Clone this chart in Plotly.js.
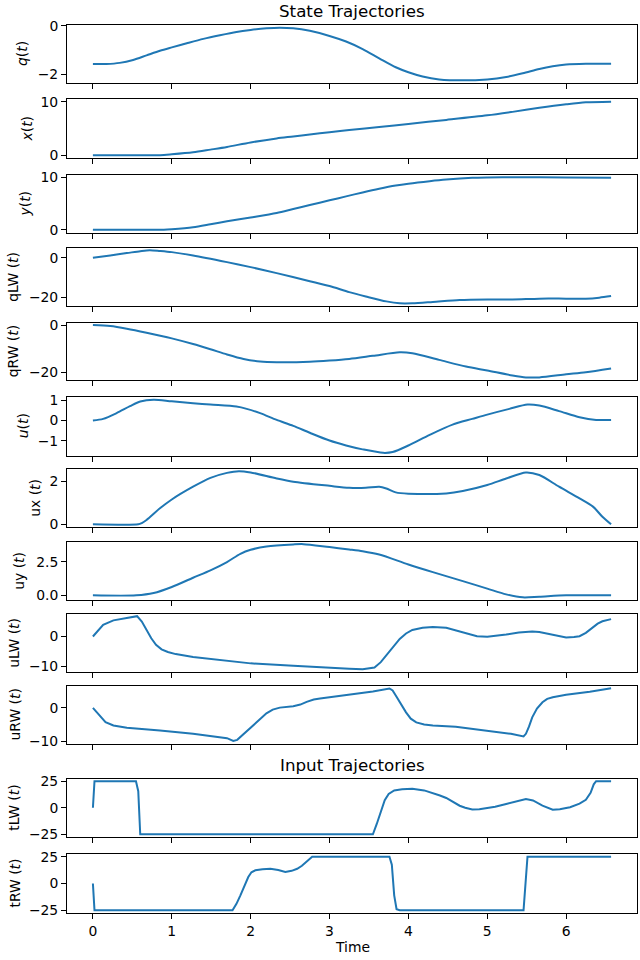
<!DOCTYPE html>
<html><head><meta charset="utf-8">
<script src="https://cdn.plot.ly/plotly-3.0.1.min.js"></script>
<style>body{margin:0;background:#fff;} #chart{width:640px;height:960px;}</style>
</head><body><div id="chart"></div>
<script>
// ---------- DATA ----------
const tQ = [0,0.17,0.34,0.51,0.68,0.85,1.0,1.19,1.40,1.61,1.82,2.0,2.2,2.37,2.54,2.75,3.0,3.21,3.42,3.63,3.84,4.0,4.18,4.39,4.69,5.0,5.24,5.45,5.66,5.83,6.0,6.25,6.57];
const q  = [-1.57,-1.565,-1.52,-1.40,-1.21,-1.02,-0.88,-0.71,-0.53,-0.38,-0.245,-0.163,-0.095,-0.068,-0.095,-0.20,-0.41,-0.64,-0.95,-1.33,-1.70,-1.905,-2.08,-2.20,-2.24,-2.20,-2.10,-1.95,-1.77,-1.66,-1.59,-1.56,-1.56];

const tX = [0,0.5,0.85,1.0,1.27,1.49,1.70,2.0,2.33,2.54,2.75,3.0,3.25,3.63,4.0,4.48,5.0,5.32,5.66,6.0,6.25,6.57];
const xPos = [0,0,0.03,0.19,0.56,1.06,1.56,2.4,3.15,3.52,3.9,4.3,4.7,5.28,5.85,6.6,7.45,8.1,8.85,9.5,9.88,10.0];

const tY = [0,0.5,0.9,1.0,1.27,1.49,1.70,2.0,2.33,2.54,2.75,3.0,3.21,3.42,3.63,3.84,4.0,4.27,4.48,4.81,5.0,5.32,6.0,6.57];
const yPos = [0,0,0.03,0.12,0.5,1.06,1.63,2.35,3.2,3.95,4.7,5.6,6.35,7.1,7.8,8.4,8.75,9.22,9.53,9.86,9.94,10.0,9.95,9.9];

const tQLW = [0,0.22,0.43,0.6,0.72,0.85,1.0,1.27,1.70,2.0,2.33,2.75,3.0,3.25,3.46,3.72,3.89,4.05,4.31,4.65,5.0,5.32,5.66,6.0,6.25,6.42,6.57];
const qLW  = [0,1.2,2.4,3.4,3.9,3.5,2.9,1.2,-2.2,-4.75,-7.8,-11.9,-14.4,-17.5,-19.7,-22.2,-23.2,-23.2,-22.5,-21.5,-21.2,-21.2,-20.8,-20.8,-20.8,-20.3,-19.5];

const tQRW = [0,0.22,0.43,0.68,1.0,1.27,1.49,1.70,1.91,2.12,2.33,2.75,3.0,3.25,3.55,3.89,4.05,4.39,4.73,5.0,5.32,5.49,5.66,6.0,6.25,6.57];
const qRW  = [0,-0.4,-1.5,-3.2,-5.6,-8.0,-10.2,-12.4,-14.3,-15.4,-15.7,-15.5,-15.0,-14.3,-13.0,-11.5,-11.9,-14.7,-17.5,-19.2,-21.3,-22.1,-22.1,-20.8,-19.9,-18.3];

const tU = [0,0.13,0.30,0.47,0.60,0.77,1.0,1.27,1.49,1.82,1.95,2.12,2.33,2.54,2.75,3.0,3.21,3.42,3.68,3.80,4.0,4.27,4.56,4.81,5.0,5.28,5.51,5.66,5.91,6.17,6.38,6.57];
const u  = [0,0.08,0.36,0.70,0.93,1.02,0.94,0.85,0.78,0.68,0.57,0.36,0.03,-0.26,-0.60,-0.98,-1.22,-1.41,-1.58,-1.54,-1.22,-0.70,-0.20,0.08,0.29,0.57,0.78,0.73,0.46,0.16,0.03,0.03];

const tUX = [0,0.575,0.62,0.68,0.85,1.0,1.27,1.49,1.70,1.85,2.0,2.33,2.54,3.0,3.25,3.46,3.63,3.72,3.84,4.0,4.48,4.69,5.0,5.24,5.49,5.66,5.91,6.17,6.34,6.46,6.57];
const ux  = [0,0,0.06,0.2,0.74,1.15,1.74,2.15,2.38,2.46,2.40,2.12,1.97,1.78,1.69,1.69,1.74,1.66,1.48,1.42,1.43,1.54,1.82,2.12,2.40,2.28,1.74,1.2,0.82,0.35,0];

const tUY = [0,0.55,0.77,1.0,1.27,1.49,1.70,1.87,2.0,2.2,2.54,2.67,3.0,3.25,3.42,3.63,4.0,4.31,4.69,5.0,5.24,5.45,5.66,6.0,6.57];
const uy  = [0,0,0.17,0.62,1.31,1.86,2.48,3.09,3.39,3.64,3.79,3.81,3.59,3.42,3.29,3.04,2.30,1.73,1.06,0.50,0.07,-0.15,-0.10,0,0];

const tULW = [0,0.05,0.13,0.26,0.43,0.56,0.62,0.68,0.74,0.80,0.87,0.95,1.05,1.27,1.70,2.0,2.54,3.0,3.25,3.42,3.57,3.65,3.72,3.80,3.89,3.97,4.05,4.18,4.31,4.48,4.6,4.73,4.87,5.0,5.12,5.24,5.4,5.57,5.66,5.74,5.87,6.0,6.1,6.17,6.25,6.34,6.4,6.46,6.57];
const uLW  = [0,1.44,3.9,5.4,6.2,6.8,5.0,2.2,-0.6,-2.8,-4.3,-5.2,-5.9,-6.9,-8.2,-9.0,-9.8,-10.6,-10.8,-11.0,-10.4,-8.6,-6.3,-3.4,-0.8,1.0,2.2,2.9,3.2,2.9,2.0,0.9,0.1,-0.1,0.2,0.67,1.3,1.67,1.5,1.1,0.2,-0.33,-0.2,0.1,1.2,3.1,4.3,5.1,5.8];

const tURW = [0,0.05,0.10,0.16,0.26,0.43,0.85,1.27,1.70,1.78,1.83,1.90,1.97,2.04,2.12,2.20,2.28,2.37,2.54,2.63,2.71,2.80,2.88,3.05,3.25,3.55,3.76,3.80,3.84,3.90,3.97,4.03,4.10,4.2,4.31,4.6,5.0,5.3,5.46,5.49,5.53,5.57,5.63,5.70,5.76,5.83,6.0,6.3,6.57];
const uRW  = [0,-1.3,-2.8,-4.2,-5.2,-5.9,-6.7,-7.7,-9.0,-9.8,-9.5,-8.0,-6.5,-5.0,-3.3,-1.6,-0.5,0.1,0.5,1.0,1.8,2.5,2.8,3.3,3.9,4.9,5.8,5.2,3.7,1.2,-1.3,-3.2,-4.3,-4.9,-5.2,-5.6,-6.7,-7.7,-8.5,-7.7,-5.5,-2.8,-0.2,1.7,2.7,3.2,3.9,4.8,5.9];

const tTLW = [0,0.02,0.546,0.575,0.60,3.55,3.60,3.65,3.70,3.75,3.82,3.92,4.05,4.2,4.31,4.4,4.48,4.56,4.65,4.72,4.81,4.9,5.0,5.1,5.24,5.35,5.49,5.58,5.66,5.7,5.83,5.92,6.0,6.05,6.17,6.25,6.31,6.35,6.38,6.57];
const tauLW = [0,25,25,15.6,-25,-25,-15,-3,7,13,16.3,17.3,17.8,16.3,14.0,11.5,9.2,6,1.9,0,-1.6,-1.5,-0.3,1.0,3.5,5.8,8.3,6.9,3.5,2.0,-1.9,-1.5,-0.3,0.5,3.8,7.5,14,22,25,25];

const tTRW = [0,0.02,1.77,1.82,1.87,1.92,1.97,2.01,2.06,2.15,2.25,2.35,2.44,2.52,2.59,2.65,2.70,2.75,2.78,3.76,3.79,3.82,3.85,3.89,5.46,5.51,6.57];
const tauRW = [0,-25,-25,-19,-11,-2,6,10.5,12.3,13.2,13.7,12.5,10.8,11.8,13.7,16.5,19.8,23.5,25,25,17.5,-11,-24,-25,-25,25,25];

// tick labels
const xTickVals = [0,1,2,3,4,5,6];
const xTickText = ['0','1','2','3','4','5','6'];

// ---------- BUILD ----------
const blue = '#1f77b4';
const FONT = 'DejaVu Sans, sans-serif';
const series = [
  {t:tQ, v:q, label:'<i>q</i>(<i>t</i>)', tv:[-2,0], tt:['−2','0'], shape:'spline'},
  {t:tX, v:xPos, label:'<i>x</i>(<i>t</i>)', tv:[0,10], tt:['0','10'], shape:'spline'},
  {t:tY, v:yPos, label:'<i>y</i>(<i>t</i>)', tv:[0,10], tt:['0','10'], shape:'spline'},
  {t:tQLW, v:qLW, label:'qLW (<i>t</i>)', tv:[-20,0], tt:['−20','0'], shape:'spline'},
  {t:tQRW, v:qRW, label:'qRW (<i>t</i>)', tv:[-20,0], tt:['−20','0'], shape:'spline'},
  {t:tU, v:u, label:'<i>u</i>(<i>t</i>)', tv:[-1,0,1], tt:['−1','0','1'], shape:'spline'},
  {t:tUX, v:ux, label:'ux (<i>t</i>)', tv:[0,2], tt:['0','2'], shape:'spline'},
  {t:tUY, v:uy, label:'uy (<i>t</i>)', tv:[0,2.5], tt:['0.0','2.5'], shape:'spline'},
  {t:tULW, v:uLW, label:'uLW (<i>t</i>)', tv:[-10,0], tt:['−10','0'], shape:'linear'},
  {t:tURW, v:uRW, label:'uRW (<i>t</i>)', tv:[-10,0], tt:['−10','0'], shape:'linear'},
  {t:tTLW, v:tauLW, label:'tLW (<i>t</i>)', tv:[-25,0,25], tt:['−25','0','25'], shape:'linear'},
  {t:tTRW, v:tauRW, label:'tRW (<i>t</i>)', tv:[-25,0,25], tt:['−25','0','25'], shape:'linear'}
];
// layout positions (pixels)
const tops    = [25, 99, 174.5, 247.5, 322.5, 397, 468.5, 541.5, 613.5, 685.5, 778.5, 854];
const bottoms = [83, 158, 232.5, 306, 380, 455.5, 527, 600, 672, 743.5, 837, 913];
const labelX  = [22, 27, 25, 13, 13, 23, 35, 19, 14, 14, 14, 14];

const W = 640, H = 960, L = 67, R = 3;
const PW = W - L - R;
const py = p => 1 - p / H;
const px = p => (p - L) / PW;

function padRange(arr){
  const mn = Math.min(...arr), mx = Math.max(...arr), s = mx - mn;
  return [mn - 0.05*s, mx + 0.05*s];
}
const allT = [].concat(...series.map(s=>s.t));
const xr = padRange(allT);

const traces = [];
const layout = {
  width: W, height: H,
  margin: {l: L, r: R, t: 0, b: 0},
  paper_bgcolor: '#fff', plot_bgcolor: '#fff',
  showlegend: false,
  font: {family: FONT, size: 13.9, color: '#000'},
  annotations: []
};
series.forEach((s, i) => {
  const n = i + 1;
  const xa = 'x' + (n === 1 ? '' : n), ya = 'y' + (n === 1 ? '' : n);
  traces.push({x: s.t, y: s.v, type: 'scatter', mode: 'lines', xaxis: xa, yaxis: ya,
    line: {color: blue, width: 2, shape: s.shape, smoothing: 0.8}, hoverinfo: 'skip'});
  const axCommon = {showline: true, linecolor: '#000', linewidth: 1, mirror: true,
    ticks: 'outside', ticklen: 5, tickwidth: 1, tickcolor: '#000',
    showgrid: false, zeroline: false, fixedrange: true,
    tickfont: {family: FONT, size: 13.9, color: '#000'}};
  layout['xaxis' + (n === 1 ? '' : n)] = Object.assign({}, axCommon, {
    domain: [0, 1], anchor: ya, range: xr, tickvals: xTickVals, ticktext: xTickText,
    showticklabels: n === series.length});
  layout['yaxis' + (n === 1 ? '' : n)] = Object.assign({}, axCommon, {
    domain: [py(bottoms[i]), py(tops[i])], anchor: xa, range: padRange(s.v),
    tickvals: s.tv, ticktext: s.tt});
  layout.annotations.push({text: s.label, xref: 'paper', yref: 'paper',
    x: px(labelX[i]), y: py((tops[i] + bottoms[i]) / 2), xanchor: 'center', yanchor: 'middle',
    textangle: -90, showarrow: false, font: {family: FONT, size: 13.9, color: '#000'}});
});
layout.annotations.push({text: 'State Trajectories', xref: 'paper', yref: 'paper',
  x: 0.5, y: py(11), xanchor: 'center', yanchor: 'middle', showarrow: false,
  font: {family: FONT, size: 16.7, color: '#000'}});
layout.annotations.push({text: 'Input Trajectories', xref: 'paper', yref: 'paper',
  x: 0.5, y: py(765), xanchor: 'center', yanchor: 'middle', showarrow: false,
  font: {family: FONT, size: 16.7, color: '#000'}});
layout.annotations.push({text: 'Time', xref: 'paper', yref: 'paper',
  x: 0.5, y: py(947), xanchor: 'center', yanchor: 'middle', showarrow: false,
  font: {family: FONT, size: 13.9, color: '#000'}});

Plotly.newPlot('chart', traces, layout, {staticPlot: true, displayModeBar: false});
</script>
</body></html>
